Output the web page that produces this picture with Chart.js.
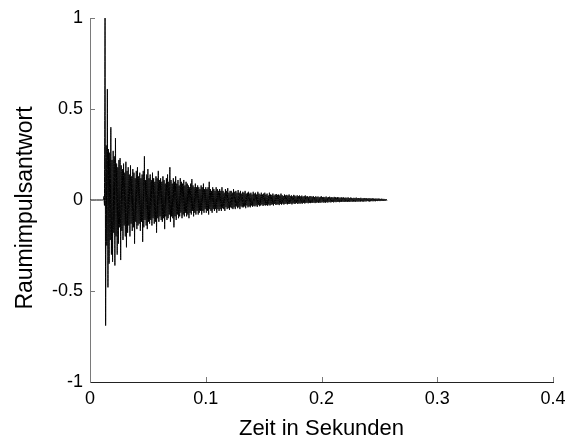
<!DOCTYPE html>
<html>
<head>
<meta charset="utf-8">
<script src="https://cdn.jsdelivr.net/npm/chart.js@4"></script>
<style>
  html, body { margin: 0; padding: 0; background: #fff; }
  #box { width: 577px; height: 443px; }
</style>
</head>
<body>
<div id="box"><canvas id="rir" width="577" height="443"></canvas></div>
<script>
// Raumimpulsantwort: one positive and one negative peak per millisecond
const startZeit = 0.012;
const schritt = 0.001;

const hoch = [
  0.02, 1.00, 0.30, 0.61, 0.28, 0.26, 0.40, 0.22, 0.27, 0.24,
  0.34, 0.20, 0.18, 0.22, 0.23, 0.19, 0.17, 0.20, 0.15, 0.21,
  0.16, 0.18, 0.14, 0.19, 0.13, 0.17, 0.15, 0.12, 0.16, 0.18,
  0.13, 0.15, 0.12, 0.14, 0.16, 0.24, 0.11, 0.14, 0.17, 0.12,
  0.14, 0.11, 0.15, 0.12, 0.10, 0.13, 0.12, 0.16, 0.11, 0.12,
  0.10, 0.13, 0.11, 0.09, 0.12, 0.14, 0.10, 0.18, 0.11, 0.09,
  0.12, 0.10, 0.13, 0.09, 0.11, 0.08, 0.12, 0.10, 0.09, 0.11,
  0.08, 0.10, 0.09, 0.08, 0.07, 0.09, 0.115, 0.08, 0.07, 0.09,
  0.07, 0.08, 0.07, 0.06, 0.08, 0.07, 0.09, 0.06, 0.07, 0.06,
  0.07, 0.10, 0.06, 0.05, 0.07, 0.06, 0.05, 0.07, 0.06, 0.05,
  0.06, 0.05, 0.07, 0.05, 0.04, 0.06, 0.05, 0.065, 0.04, 0.05,
  0.05, 0.04, 0.06, 0.045, 0.05, 0.04, 0.055, 0.04, 0.05, 0.035,
  0.045, 0.04, 0.05, 0.035, 0.04, 0.045, 0.035, 0.04, 0.03, 0.045,
  0.035, 0.04, 0.03, 0.045, 0.035, 0.03, 0.04, 0.03, 0.035, 0.04,
  0.03, 0.035, 0.025, 0.04, 0.03, 0.028, 0.035, 0.025, 0.03, 0.033,
  0.028, 0.03, 0.025, 0.035, 0.027, 0.022, 0.03, 0.025, 0.028, 0.024,
  0.03, 0.022, 0.026, 0.02, 0.028, 0.024, 0.02, 0.026, 0.022, 0.025,
  0.02, 0.024, 0.018, 0.022, 0.025, 0.019, 0.021, 0.017, 0.022, 0.02,
  0.018, 0.021, 0.016, 0.02, 0.017, 0.019, 0.015, 0.018, 0.02, 0.016,
  0.017, 0.015, 0.019, 0.014, 0.016, 0.018, 0.014, 0.016, 0.013, 0.017,
  0.015, 0.013, 0.016, 0.014, 0.012, 0.015, 0.013, 0.014, 0.012, 0.013,
  0.012, 0.014, 0.011, 0.013, 0.012, 0.01, 0.012, 0.011, 0.013, 0.01,
  0.011, 0.01, 0.012, 0.009, 0.01, 0.011, 0.009, 0.01, 0.008, 0.01,
  0.009, 0.008, 0.009, 0.008, 0.007, 0.008, 0.007, 0.008, 0.007, 0.006,
  0.007, 0.006, 0.006, 0.005, 0.004
];

const tief = [
  -0.03, -0.69, -0.25, -0.48, -0.35, -0.22, -0.30, -0.34, -0.18, -0.36,
  -0.20, -0.30, -0.24, -0.15, -0.33, -0.17, -0.22, -0.14, -0.20, -0.26,
  -0.18, -0.14, -0.20, -0.13, -0.17, -0.15, -0.24, -0.12, -0.16, -0.14,
  -0.13, -0.17, -0.12, -0.23, -0.15, -0.11, -0.14, -0.16, -0.12, -0.13,
  -0.11, -0.14, -0.10, -0.13, -0.12, -0.18, -0.10, -0.12, -0.09, -0.11,
  -0.12, -0.10, -0.16, -0.09, -0.11, -0.10, -0.08, -0.12, -0.09, -0.10,
  -0.15, -0.09, -0.11, -0.08, -0.10, -0.09, -0.07, -0.10, -0.08, -0.09,
  -0.07, -0.09, -0.08, -0.10, -0.07, -0.08, -0.06, -0.09, -0.07, -0.08,
  -0.06, -0.08, -0.07, -0.06, -0.08, -0.06, -0.07, -0.05, -0.07, -0.06,
  -0.08, -0.05, -0.06, -0.07, -0.05, -0.06, -0.05, -0.07, -0.05, -0.06,
  -0.05, -0.06, -0.045, -0.05, -0.06, -0.04, -0.05, -0.045, -0.055, -0.04,
  -0.045, -0.05, -0.04, -0.05, -0.035, -0.045, -0.04, -0.05, -0.035, -0.04,
  -0.04, -0.035, -0.045, -0.03, -0.04, -0.035, -0.04, -0.03, -0.038, -0.032,
  -0.035, -0.03, -0.038, -0.028, -0.034, -0.03, -0.025, -0.033, -0.028, -0.03,
  -0.028, -0.032, -0.025, -0.03, -0.026, -0.024, -0.03, -0.022, -0.027, -0.025,
  -0.024, -0.028, -0.022, -0.026, -0.02, -0.025, -0.022, -0.02, -0.024, -0.021,
  -0.022, -0.019, -0.024, -0.018, -0.021, -0.02, -0.017, -0.022, -0.018, -0.02,
  -0.018, -0.02, -0.016, -0.019, -0.017, -0.015, -0.018, -0.016, -0.017, -0.015,
  -0.016, -0.014, -0.017, -0.015, -0.013, -0.016, -0.014, -0.015, -0.012, -0.014,
  -0.013, -0.015, -0.012, -0.014, -0.011, -0.013, -0.012, -0.011, -0.013, -0.01,
  -0.012, -0.011, -0.01, -0.012, -0.01, -0.011, -0.009, -0.011, -0.01, -0.009,
  -0.01, -0.009, -0.011, -0.008, -0.01, -0.009, -0.008, -0.01, -0.008, -0.009,
  -0.008, -0.009, -0.007, -0.008, -0.009, -0.007, -0.008, -0.006, -0.007, -0.008,
  -0.007, -0.006, -0.007, -0.006, -0.007, -0.005, -0.006, -0.005, -0.006, -0.005,
  -0.005, -0.005, -0.004, -0.004, -0.003
];

const xTicks = [0, 0.1, 0.2, 0.3, 0.4];
const yTicks = [-1, -0.5, 0, 0.5, 1];

const xTitel = 'Zeit in Sekunden';
const yTitel = 'Raumimpulsantwort';

// silence before the direct sound, then the zig-zag of peaks
const punkte = [{ x: 0, y: 0 }, { x: startZeit - schritt / 2, y: 0 }];
hoch.forEach(function(h, i) {
    const t = startZeit + i * schritt;
    punkte.push({ x: t, y: h });
    punkte.push({ x: t + schritt / 2, y: tief[i] });
});

const tickFont = { family: 'Liberation Sans, Arial, sans-serif', size: 18 };

// short tick marks pointing into the plot, plus the rotated y title
const innenTicks = {
    id: 'innenTicks',
    afterDraw(chart) {
        const ctx = chart.ctx;
        const xs = chart.scales.x;
        const ys = chart.scales.y;
        const area = chart.chartArea;
        ctx.save();
        ctx.strokeStyle = '#7a7a7a';
        ctx.lineWidth = 1;
        ctx.beginPath();
        xTicks.forEach(function(v) {
            if (v === 0) return;
            const px = Math.round(xs.getPixelForValue(v)) + 0.5;
            ctx.moveTo(px, area.bottom);
            ctx.lineTo(px, area.bottom - 5);
        });
        yTicks.forEach(function(v) {
            if (v === -1) return;
            const py = Math.round(ys.getPixelForValue(v)) + 0.5;
            ctx.moveTo(area.left, py);
            ctx.lineTo(area.left + 5, py);
        });
        ctx.stroke();

        ctx.translate(26, 208);
        ctx.rotate(-Math.PI / 2);
        ctx.fillStyle = '#000';
        ctx.font = '23px "Liberation Sans", Arial, sans-serif';
        ctx.textAlign = 'center';
        ctx.textBaseline = 'middle';
        ctx.fillText(yTitel, 0, 0);
        ctx.restore();
    }
};

new Chart(document.getElementById('rir'), {
    type: 'line',
    data: {
        datasets: [{
            data: punkte,
            borderColor: '#000',
            borderWidth: 1,
            pointRadius: 0,
            // tiny tension keeps every sample instead of the per-pixel fast path
            tension: 0.0001,
            fill: false
        }]
    },
    options: {
        responsive: false,
        animation: false,
        parsing: false,
        devicePixelRatio: 1,
        layout: { padding: { left: 0, right: 24, top: 18, bottom: 0 } },
        plugins: {
            legend: { display: false },
            tooltip: { enabled: false }
        },
        scales: {
            x: {
                type: 'linear',
                min: 0,
                max: 0.4,
                afterBuildTicks: function(scale) {
                    scale.ticks = xTicks.map(v => ({ value: v }));
                },
                afterFit: function(scale) { scale.height = 61; },
                grid: { display: false, drawTicks: false },
                border: { display: true, color: '#222', width: 1 },
                ticks: {
                    padding: 6,
                    color: '#000',
                    font: tickFont,
                    maxRotation: 0,
                    callback: v => String(v)
                },
                title: {
                    display: true,
                    text: xTitel,
                    color: '#000',
                    font: { family: 'Liberation Sans, Arial, sans-serif', size: 22 },
                    padding: { top: 0, bottom: 1 }
                }
            },
            y: {
                min: -1,
                max: 1,
                afterBuildTicks: function(scale) {
                    scale.ticks = yTicks.map(v => ({ value: v }));
                },
                afterFit: function(scale) { scale.width = 90; },
                grid: { display: false, drawTicks: false },
                border: { display: true, color: '#7a7a7a', width: 1 },
                ticks: {
                    padding: 7,
                    color: '#000',
                    font: tickFont,
                    callback: v => String(v)
                }
            }
        }
    },
    plugins: [innenTicks]
});
</script>
</body>
</html>
